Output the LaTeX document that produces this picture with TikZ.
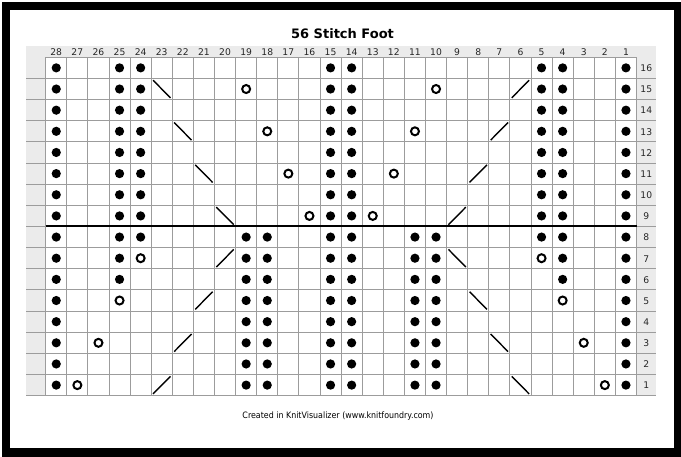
\documentclass[tikz,border=0pt]{standalone}
\usepackage{fontspec}
\setmainfont{DejaVu Sans}
\definecolor{hdrgray}{HTML}{EBEBEB}
\definecolor{gridgray}{HTML}{9C9C9C}
\newcommand\GX{45.7}
\newcommand\GY{57.3}
\newcommand\CW{21.1}
\newcommand\CH{21.15}
\tikzset{
  kvdot/.style={fill=black},
  kvyo/.style={draw=black, line width=2pt},
  kvdec/.style={draw=black, line width=1.4pt},
  gridline/.style={draw=gridgray, line width=0.9pt},
  colnum/.style={anchor=base, inner sep=0pt, font=\fontsize{9.2}{10}\selectfont, text=black!85},
}
\newcommand\KVdot[2]{\fill[kvdot] ({\GX+(28.5-#1)*\CW},{\GY+(16.5-#2)*\CH}) circle (4.6);}
\newcommand\KVyo[2]{\draw[kvyo] ({\GX+(28.5-#1)*\CW},{\GY+(16.5-#2)*\CH}) circle (4.0);}
\newcommand\KVbs[2]{\draw[kvdec] ({\GX+(28.5-#1)*\CW-8.7},{\GY+(16.5-#2)*\CH-8.8}) -- ({\GX+(28.5-#1)*\CW+8.7},{\GY+(16.5-#2)*\CH+8.8});}
\newcommand\KVsl[2]{\draw[kvdec] ({\GX+(28.5-#1)*\CW-8.7},{\GY+(16.5-#2)*\CH+8.8}) -- ({\GX+(28.5-#1)*\CW+8.7},{\GY+(16.5-#2)*\CH-8.8});}
\begin{document}
\begin{tikzpicture}[x=1pt,y=-1pt]
\useasboundingbox (0,0) rectangle (681,457);
% frame
\fill[black] (2,2) rectangle (681,457);
\fill[white] (10,10) rectangle (674,448);
% gray label bands
\fill[hdrgray] (26,46) rectangle (656,{\GY+16*\CH});
\fill[white] (\GX,\GY) rectangle ({\GX+28*\CW},{\GY+16*\CH});
% grid
\foreach \i in {0,...,28} {
  \draw[gridline] ({\GX+\i*\CW},\GY) -- ({\GX+\i*\CW},{\GY+16*\CH});
}
\draw[gridline] (\GX,\GY) -- ({\GX+28*\CW},\GY);
\foreach \j in {1,...,16} {
  \draw[gridline] (26,{\GY+\j*\CH}) -- (656,{\GY+\j*\CH});
}
% thick divider between rows 8 and 9
\draw[black, line width=2pt] (\GX,{\GY+8*\CH}) -- ({\GX+28*\CW},{\GY+8*\CH});
% column numbers
\foreach \c in {1,...,28} {
  \node[colnum] (col\c) at ({\GX+(28.5-\c)*\CW},55.6) {\c};
}
% row numbers
\foreach \r in {1,...,16} {
  \node[colnum] (row\r) at (646.3,{\GY+(16.5-\r)*\CH+3.8}) {\r};
}
% title and footer
\node[anchor=base, inner sep=0pt, font=\fontsize{13}{15}\selectfont\bfseries] (title) at (342.5,38.3) {56 Stitch Foot};
\node[anchor=base, inner sep=0pt, font=\fontsize{8.8}{10}\selectfont] (footer) at (338,419) {\scalebox{0.9}[1]{Created in KnitVisualizer (www.knitfoundry.com)}};
% purl dots
\foreach \r/\cs in {16/{28,25,24,15,14,5,4,1},15/{28,25,24,15,14,5,4,1},14/{28,25,24,15,14,5,4,1},13/{28,25,24,15,14,5,4,1},12/{28,25,24,15,14,5,4,1},11/{28,25,24,15,14,5,4,1},10/{28,25,24,15,14,5,4,1},9/{28,25,24,15,14,5,4,1},8/{28,25,24,19,18,15,14,11,10,5,4,1},7/{28,25,19,18,15,14,11,10,4,1},6/{28,25,19,18,15,14,11,10,4,1},5/{28,19,18,15,14,11,10,1},4/{28,19,18,15,14,11,10,1},3/{28,19,18,15,14,11,10,1},2/{28,19,18,15,14,11,10,1},1/{28,19,18,15,14,11,10,1}} {
  \foreach \c in \cs { \KVdot{\c}{\r} }
}
% yarn overs
\foreach \c/\r in {19/15,10/15,18/13,11/13,17/11,12/11,16/9,13/9,24/7,5/7,25/5,4/5,26/3,3/3,27/1,2/1} { \KVyo{\c}{\r} }
% backslash decreases
\foreach \c/\r in {23/15,22/13,21/11,20/9,9/7,8/5,7/3,6/1} { \KVbs{\c}{\r} }
% slash decreases
\foreach \c/\r in {6/15,7/13,8/11,9/9,20/7,21/5,22/3,23/1} { \KVsl{\c}{\r} }
\end{tikzpicture}
\end{document}
